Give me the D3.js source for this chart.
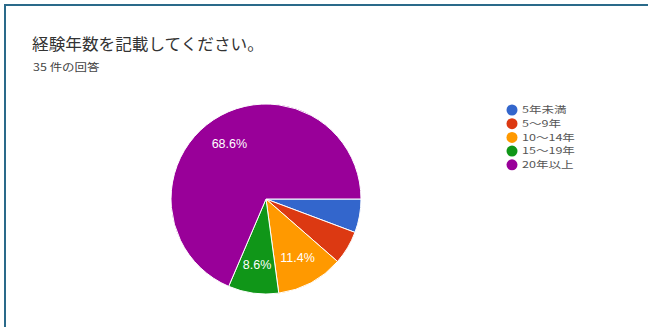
<!DOCTYPE html>
<html><head><meta charset="utf-8">
<script src="https://cdn.jsdelivr.net/npm/d3@7"></script>
<style>body{margin:0;background:#fff;}svg{display:block;font-family:"Noto Sans CJK JP","Noto Sans",sans-serif;}</style>
</head><body>
<svg id="c" width="648" height="327"></svg>
<script>
const title = "経験年数を記載してください。";
const subtitle = "35 件の回答";
const categories = ["5年未満", "5～9年", "10～14年", "15～19年", "20年以上"];
const counts = [2, 2, 4, 3, 24];
const colors = ["#3366cc", "#dc3912", "#ff9900", "#109618", "#990099"];

const svg = d3.select("#c");
// frame
svg.append("rect").attr("x",5).attr("y",5).attr("width",660).attr("height",340)
  .attr("fill","none").attr("stroke","#2a6a8a").attr("stroke-width",2);

svg.append("text").attr("transform","translate(32,50) scale(1.04,1)").attr("font-size",16).attr("fill","#333")
  .text(title);
svg.append("text").attr("transform","translate(33,71) scale(1.25,1)").attr("font-size",10).attr("fill","#444")
  .text(subtitle);

const total = d3.sum(counts);
const cx = 266, cy = 199, r = 95;
const pie = d3.pie().sort(null).startAngle(Math.PI/2).endAngle(Math.PI/2 + 2*Math.PI);
const arcs = pie(counts);
const arc = d3.arc().innerRadius(0).outerRadius(r);
const g = svg.append("g").attr("transform",`translate(${cx},${cy})`);
g.selectAll("path").data(arcs).join("path")
  .attr("d", arc).attr("fill",(d,i)=>colors[i]).attr("stroke","#fff").attr("stroke-width",1);
const labelArc = d3.arc().innerRadius(r*0.7).outerRadius(r*0.7);
const fmt = v => (Math.round(v/total*1000)/10).toFixed(1) + "%";
g.selectAll("text.lbl").data(arcs.filter(d => d.data/total > 0.07)).join("text")
  .attr("class","lbl")
  .attr("transform", d => `translate(${labelArc.centroid(d)})`)
  .attr("text-anchor","middle").attr("dy","0.35em")
  .attr("font-size",12.5).attr("fill","#fff")
  .attr("font-family","Arial, 'Liberation Sans', sans-serif")
  .text(d => fmt(d.data));

const y0 = 110, dy = 13.7;
const leg = svg.append("g");
categories.forEach((c,i)=>{
  leg.append("circle").attr("cx",512).attr("cy",y0+i*dy).attr("r",5.5).attr("fill",colors[i]);
  leg.append("text").attr("transform",`translate(522,${y0+i*dy}) scale(1.35,1)`).attr("dy","0.35em")
    .attr("font-size",9.3).attr("fill","#555").text(c);
});
</script>
</body></html>
